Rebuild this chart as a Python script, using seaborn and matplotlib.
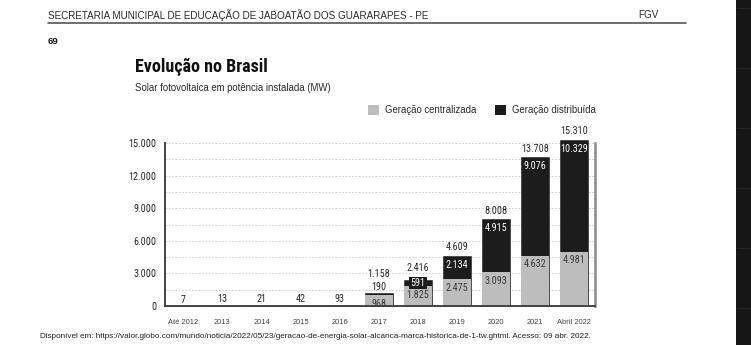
import matplotlib
matplotlib.use("Agg")
import matplotlib.pyplot as plt
from matplotlib.patches import Patch, Rectangle
from matplotlib.lines import Line2D
from matplotlib.ticker import FuncFormatter, MultipleLocator
import seaborn as sns
import pandas as pd

# dados (MW)
categories = ["Até 2012", "2013", "2014", "2015", "2016", "2017",
              "2018", "2019", "2020", "2021", "Abril 2022"]
centralizada = [7, 13, 21, 42, 93, 968, 1825, 2475, 3093, 4632, 4981]
distribuida = [0, 0, 0, 0, 0, 190, 591, 2134, 4915, 9076, 10329]
totais = [7, 13, 21, 42, 93, 1158, 2416, 4609, 8008, 13708, 15310]

GRAY = "#bdbdbd"
BLACK = "#1c1c1c"
TXT = "#2a2a2a"
W, H = 751, 345
NUM = 7.3  # tamanho dos numeros
COND = ["Roboto Condensed", "DejaVu Sans Condensed", "Liberation Sans"]

sns.set_theme(style="white")
plt.rcParams["font.family"] = ["Liberation Sans", "DejaVu Sans"]


def fmt(v):
    return f"{v:,.0f}".replace(",", ".")


fig = plt.figure(figsize=(W / 100, H / 100), dpi=100)
fig.patch.set_facecolor("white")

# cabecalho da pagina
fig.text(48 / W, 1 - 15 / H, "SECRETARIA MUNICIPAL DE EDUCAÇÃO DE JABOATÃO DOS GUARARAPES - PE",
         fontsize=7.1, color=TXT, va="center")
fig.text(638 / W, 1 - 15 / H, "FGV", fontsize=7.1, color=TXT, va="center")
fig.add_artist(Line2D([48 / W, 686 / W], [1 - 23 / H] * 2, color="#555555", lw=1.2))
fig.text(48 / W, 1 - 42 / H, "69", fontsize=6.8, weight="bold", color="#111111", va="center")

# titulo
fig.text(135 / W, 1 - 67 / H, "Evolução no Brasil", family=COND,
         fontsize=13, weight="bold", color="#111111", va="center")
fig.text(135 / W, 1 - 88 / H, "Solar fotovoltaica em potência instalada (MW)",
         fontsize=6.9, color=TXT, va="center")

ax = fig.add_axes([165 / W, 39 / H, 430 / W, 163 / H])

df = pd.DataFrame({"ano": categories, "centralizada": centralizada,
                   "distribuida": distribuida, "total": totais})

# total em preto, centralizada em cinza por cima
sns.barplot(data=df, x="ano", y="total", color=BLACK, saturation=1, width=0.72,
            edgecolor=BLACK, linewidth=0.4, ax=ax)
sns.barplot(data=df, x="ano", y="centralizada", color=GRAY, saturation=1, width=0.72,
            linewidth=0, ax=ax)
for p in ax.patches:
    p.set_clip_on(False)

ax.set_xlim(-0.47, 10.53)
ax.set_ylim(0, 15000)
ax.yaxis.set_major_locator(MultipleLocator(3000))
ax.yaxis.set_minor_locator(MultipleLocator(1500))
ax.yaxis.set_major_formatter(FuncFormatter(lambda v, _: fmt(v)))
ax.grid(axis="y", which="both", color="#c8c8c8", linestyle=(0, (2, 2)), lw=0.6)
ax.set_axisbelow(True)
ax.set_xlabel("")
ax.set_ylabel("")
ax.tick_params(axis="both", which="both", length=0)
ax.tick_params(axis="y", labelsize=NUM, labelcolor=TXT, pad=6)
ax.tick_params(axis="x", labelsize=5.4, labelcolor="#444444", pad=9)
for lbl in ax.get_yticklabels():
    lbl.set_family(COND)

for s in ["left", "bottom"]:
    ax.spines[s].set_color("#444444")
    ax.spines[s].set_linewidth(1.4)
ax.spines["top"].set_visible(False)
ax.spines["right"].set_color("#8a8a8a")
ax.spines["right"].set_linewidth(1.8)

# rotulos
lab = dict(ha="center", fontsize=NUM, family=COND, textcoords="offset points",
           annotation_clip=False)
for i, (c, d, t) in enumerate(zip(centralizada, distribuida, totais)):
    if d == 0:
        ax.annotate(fmt(t), (i, t), xytext=(0, 1), va="bottom", color=TXT, **lab)
        continue
    ax.annotate(fmt(c), (i, c), xytext=(0, -2.5), va="top", color="#3a3a3a", **lab)
    if d < 300:
        ax.annotate(fmt(d), (i, t), xytext=(0, 1), va="bottom", color=TXT, **lab)
        ax.annotate(fmt(t), (i, t), xytext=(0, 10.5), va="bottom", color=TXT, **lab)
    elif d < 1000:
        ax.annotate(fmt(d), (i, c + d / 2), xytext=(0, 0), va="center", color="white",
                    bbox=dict(boxstyle="square,pad=0.12", fc=BLACK, ec="none"), **lab)
        ax.annotate(fmt(t), (i, t), xytext=(0, 4.5), va="bottom", color=TXT, **lab)
    else:
        ax.annotate(fmt(d), (i, t), xytext=(0, -3), va="top", color="white", **lab)
        ax.annotate(fmt(t), (i, t), xytext=(0, 2.5), va="bottom", color=TXT, **lab)

# legenda
handles = [Patch(facecolor=GRAY, edgecolor="none"), Patch(facecolor=BLACK, edgecolor="none")]
fig.legend(handles, ["Geração centralizada", "Geração distribuída"], loc="center left",
           bbox_to_anchor=(368 / W, 1 - 110 / H), ncol=2, frameon=False, fontsize=6.9,
           handlelength=1.15, handleheight=1.15, handletextpad=0.6, columnspacing=2.0,
           labelcolor=TXT, borderaxespad=0, borderpad=0)

# fonte
fig.text(40 / W, 1 - 336 / H,
         "Disponível em: https://valor.globo.com/mundo/noticia/2022/05/23/geracao-de-energia-solar-"
         "alcanca-marca-historica-de-1-tw.ghtml. Acesso: 09 abr. 2022.",
         fontsize=5.9, color="#222222", va="center")

# faixa escura na borda direita
fig.add_artist(Rectangle((736 / W, 0), 15 / W, 1, transform=fig.transFigure,
                         facecolor="#161616", edgecolor="none"))
for yy in [8, 68, 128, 188, 248, 308]:
    fig.add_artist(Line2D([737 / W, 1], [1 - yy / H] * 2, color="#262626", lw=0.6))

fig.savefig("out.png", dpi=100)
